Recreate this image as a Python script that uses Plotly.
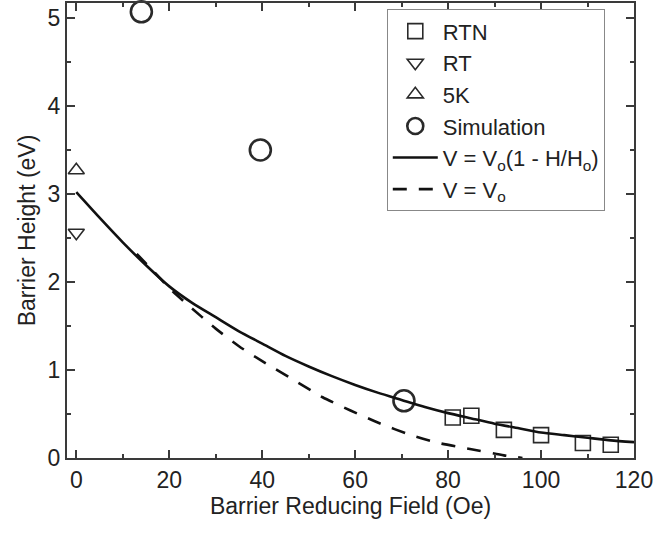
import plotly.graph_objects as go

# Data
rtn_x = [81, 85, 92, 100, 109, 115]
rtn_y = [0.46, 0.48, 0.32, 0.26, 0.17, 0.15]

rt_x = [0]
rt_y = [2.56]

k5_x = [0]
k5_y = [3.27]

sim_x = [14, 39.6, 70.5]
sim_y = [5.07, 3.50, 0.65]

fit_x = [0, 5, 10, 15, 20, 25, 30, 35, 40, 45, 50, 55, 60, 65, 70, 75, 80, 85, 90, 95, 100, 105, 110, 115, 120]
fit_y = [3.02, 2.73, 2.45, 2.19, 1.95, 1.76, 1.60, 1.44, 1.30, 1.16, 1.04, 0.93, 0.83, 0.74, 0.66, 0.58, 0.51, 0.45, 0.39, 0.34, 0.29, 0.26, 0.23, 0.20, 0.18]

v0_x = [13, 17, 20, 24, 30, 35, 40, 47, 53, 59, 65, 72, 78, 85, 92, 96]
v0_y = [2.32, 2.10, 1.93, 1.74, 1.47, 1.27, 1.10, 0.88, 0.69, 0.54, 0.40, 0.26, 0.17, 0.10, 0.03, 0.0]

ink = "#2a2a2a"
font_family = "Liberation Sans, Arial, sans-serif"

fig = go.Figure()
fig.add_trace(go.Scatter(x=rtn_x, y=rtn_y, mode="markers", name="RTN",
                         marker=dict(symbol="square-open", size=15, color=ink, line=dict(width=1.6)),
                         cliponaxis=False))
fig.add_trace(go.Scatter(x=rt_x, y=rt_y, mode="markers", name="RT",
                         marker=dict(symbol="triangle-down-open", size=14, color=ink, line=dict(width=1.6)),
                         cliponaxis=False))
fig.add_trace(go.Scatter(x=k5_x, y=k5_y, mode="markers", name="5K",
                         marker=dict(symbol="triangle-up-open", size=14, color=ink, line=dict(width=1.6)),
                         cliponaxis=False))
fig.add_trace(go.Scatter(x=sim_x, y=sim_y, mode="markers", name="Simulation",
                         marker=dict(symbol="circle-open", size=21, color=ink, line=dict(width=2.6)),
                         cliponaxis=False))
fig.add_trace(go.Scatter(x=fit_x, y=fit_y, mode="lines", name="V = V<sub>o</sub>(1 - H/H<sub>o</sub>)",
                         line=dict(color="#111111", width=2.6, shape="spline", smoothing=0.6)))
fig.add_trace(go.Scatter(x=v0_x, y=v0_y, mode="lines", name="V = V<sub>o</sub>",
                         line=dict(color="#111111", width=2.6, dash="14px,12px", shape="spline", smoothing=0.6)))

axis_common = dict(
    showline=True, linecolor="#3a3a3a", linewidth=2, mirror="ticks",
    ticks="inside", ticklen=8, tickwidth=1.5, tickcolor="#3a3a3a",
    showgrid=False, zeroline=False,
    tickfont=dict(size=23, color="#222222", family=font_family),
)

fig.update_layout(
    width=656, height=539,
    margin=dict(l=67, r=22, t=1, b=81),
    paper_bgcolor="white", plot_bgcolor="white",
    font=dict(family=font_family, color="#222222", size=23),
    xaxis=dict(range=[-2, 120], tickvals=[0, 20, 40, 60, 80, 100, 120],
               minor=dict(ticks="inside", ticklen=4, tickwidth=1.5, tickcolor="#3a3a3a", dtick=10, tick0=0),
               title=dict(text="Barrier Reducing Field (Oe)", font=dict(size=23), standoff=6),
               **axis_common),
    yaxis=dict(range=[0, 5.17], tickvals=[0, 1, 2, 3, 4, 5],
               minor=dict(ticks="inside", ticklen=4, tickwidth=1.5, tickcolor="#3a3a3a", dtick=0.5, tick0=0),
               title=dict(text="Barrier Height (eV)", font=dict(size=23), standoff=6),
               **axis_common),
    legend=dict(x=0.564, y=0.986, xanchor="left", yanchor="top",
                bgcolor="white", bordercolor="#888888", borderwidth=1,
                font=dict(size=22, family=font_family), itemwidth=45,
                tracegroupgap=0),
    showlegend=True,
)

fig.write_html("out.html", config={"displayModeBar": False},
               post_script="document.body.style.margin='0';document.body.style.padding='0';")
